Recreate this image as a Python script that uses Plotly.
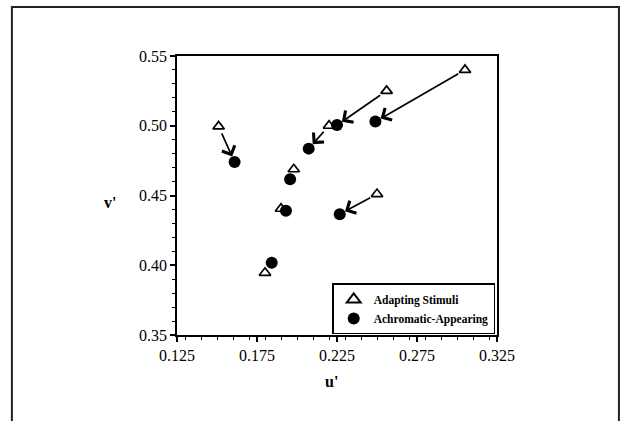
import plotly.graph_objects as go

# Data
u_adapt = [0.151, 0.305, 0.256, 0.220, 0.250, 0.198, 0.190, 0.180]
v_adapt = [0.4995, 0.540, 0.525, 0.500, 0.451, 0.4688, 0.4405, 0.3946]
u_achrom = [0.161, 0.249, 0.225, 0.2073, 0.2267, 0.1957, 0.1931, 0.1842]
v_achrom = [0.474, 0.503, 0.5005, 0.4836, 0.4366, 0.4616, 0.439, 0.4018]
has_arrow = [True, True, True, True, True, False, False, False]

x_ticks = [0.125, 0.175, 0.225, 0.275, 0.325]
y_ticks = [0.35, 0.40, 0.45, 0.50, 0.55]

SERIF = "Liberation Serif"

fig = go.Figure()
fig.add_trace(go.Scatter(
    x=u_adapt, y=v_adapt, mode="markers", name="<b>Adapting Stimuli</b>",
    marker=dict(symbol="triangle-up-open", size=10, color="black",
                line=dict(width=1.7, color="black")),
))
fig.add_trace(go.Scatter(
    x=u_achrom, y=v_achrom, mode="markers", name="<b>Achromatic-Appearing</b>",
    marker=dict(symbol="circle", size=12, color="black"),
))

annotations = []
for ua, va, uc, vc, arr in zip(u_adapt, v_adapt, u_achrom, v_achrom, has_arrow):
    if not arr:
        continue
    annotations.append(dict(
        x=uc, y=vc, ax=ua, ay=va, xref="x", yref="y", axref="x", ayref="y",
        showarrow=True, arrowhead=4, arrowsize=1.6, arrowwidth=1.7,
        arrowcolor="black", standoff=6, startstandoff=6, text="",
    ))

annotations.append(dict(x=-0.235, y=0.475, xref="paper", yref="paper",
                        text="<b>v'</b>", showarrow=False,
                        font=dict(family=SERIF, size=16, color="black")))
annotations.append(dict(x=0.484, y=-0.205, xref="paper", yref="paper",
                        text="<b>u'</b>", showarrow=False,
                        font=dict(family=SERIF, size=16, color="black")))

axis_common = dict(
    showline=True, linecolor="black", linewidth=1.7, mirror=True,
    ticks="outside", ticklen=5, tickwidth=1.5, tickcolor="black",
    showgrid=False, zeroline=False,
    tickfont=dict(family=SERIF, size=16, color="black"),
    minor=dict(ticks="outside", ticklen=3, tickwidth=1.1, tickcolor="black", dtick=0.01),
)

fig.update_layout(
    width=621, height=421,
    margin=dict(l=177, r=124, t=56, b=86),
    paper_bgcolor="white", plot_bgcolor="white",
    xaxis=dict(range=[0.125, 0.325], tickvals=x_ticks,
               ticktext=[f"{t:.3f}" for t in x_ticks], **axis_common),
    yaxis=dict(range=[0.35, 0.55], tickvals=y_ticks,
               ticktext=[f"{t:.2f}" for t in y_ticks], **axis_common),
    legend=dict(x=0.485, y=0.185, xanchor="left", yanchor="top",
                bordercolor="black", borderwidth=1.5, bgcolor="white",
                font=dict(family=SERIF, size=11.5, color="black"),
                itemsizing="constant", tracegroupgap=0),
    annotations=annotations,
    shapes=[dict(type="rect", xref="paper", yref="paper",
                 x0=-0.516, x1=1.381, y0=-0.35, y1=1.1756,
                 line=dict(color="#222", width=2), layer="below")],
)

fig.write_html("out.html")
